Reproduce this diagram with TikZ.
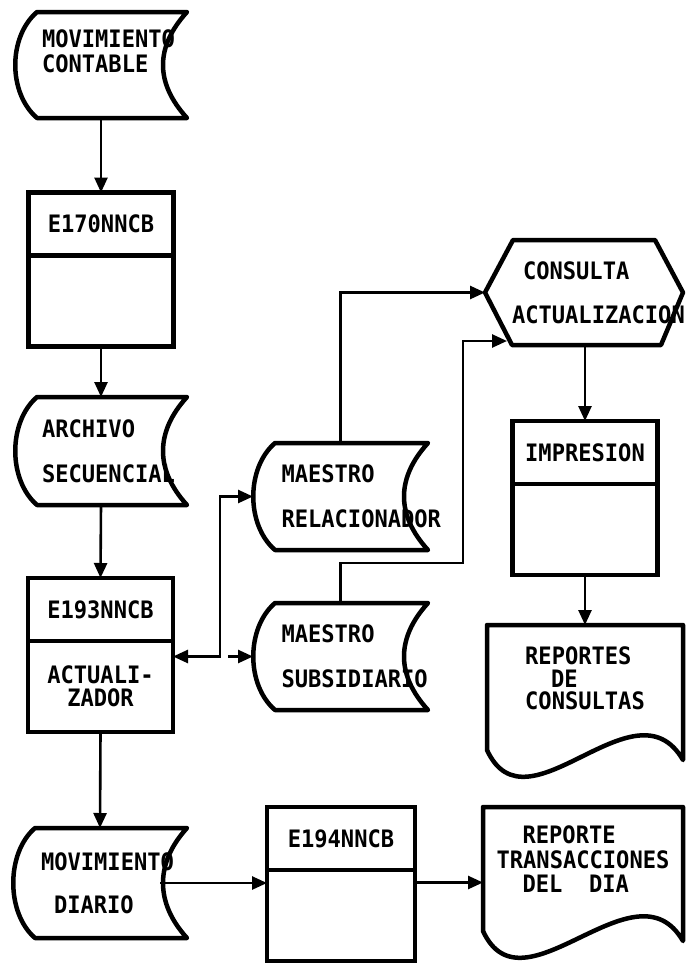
\documentclass[tikz,border=0pt]{standalone}
\usepackage{fontspec}
\newfontfamily\dotfont{DejaVu Sans Mono}[FakeStretch=0.92]
\usetikzlibrary{positioning,arrows.meta}

\tikzset{
  lbl/.style={font=\dotfont\bfseries\fontsize{24}{22}\selectfont},
  stored/.style={lbl,inner sep=0pt,outer sep=0pt,align=left,text width=118pt,
    minimum width=174pt,minimum height=107pt},
  docu/.style={lbl,inner sep=0pt,outer sep=0pt,align=left,minimum width=198pt,
    minimum height=152pt},
  prog/.style={lbl,draw,line width=4.5pt,inner sep=0pt,outer sep=0pt,
    minimum width=145pt,minimum height=63pt,align=center},
  progb/.style={prog,minimum height=91pt},
  shapeline/.style={line width=4.5pt,line join=round,line cap=round},
  conn/.style={line width=2.6pt,->},
}

\begin{document}
\begin{tikzpicture}[x=1pt,y=-1pt,>={Triangle[length=15pt,width=13pt]}]
    \useasboundingbox (0,0) rectangle (691,967);

    % left column
    \node[stored,minimum width=172pt,minimum height=106pt] (movcont) at (101,65)
        {MOVIMIENTO\\[3pt]CONTABLE\\[5pt]\mbox{}};
    \node[prog] (e170) at (101,224) {E170NNCB};
    \node[progb,below=0pt of e170] (e170b) {};
    \node[stored,minimum width=172pt,minimum height=108pt] (archseq) at (101,451)
        {ARCHIVO\\[23pt]SECUENCIAL};
    \node[prog] (e193) at (100.5,609.5) {E193NNCB};
    \node[progb,below=0pt of e193] (e193b) {ACTUALI-\\[1pt]ZADOR};
    \node[stored,minimum height=110pt] (movdia) at (100,883)
        {MOVIMIENTO\\[21pt]\hspace*{13pt}DIARIO};

    % middle
    \node[stored,minimum width=175pt] (maerel) at (340.5,496.5) {MAESTRO\\[23pt]RELACIONADOR};
    \node[stored,minimum width=175pt] (maesub) at (340.5,656.5) {MAESTRO\\[23pt]SUBSIDIARIO};
    \node[prog,minimum width=148pt] (e194) at (341,838.5) {E194NNCB};
    \node[progb,minimum width=148pt,below=0pt of e194] (e194b) {};

    % right column
    \node[lbl,inner sep=0pt,outer sep=0pt,align=left,text width=144pt,
        minimum width=198pt,minimum height=105pt] (consulta) at (584,292.5)
        {\hspace*{11pt}CONSULTA\\[22pt]ACTUALIZACION};
    \node[prog] (imp) at (585,452.5) {IMPRESION};
    \node[progb,below=0pt of imp] (impb) {};
    \node[docu,minimum width=196pt] (repcon) at (585,701)
        {REPORTES\\[0.5pt]\hspace*{26pt}DE\\[0.5pt]CONSULTAS\\[23pt]\mbox{}};
    \node[docu,minimum width=200pt,minimum height=151pt] (reptra) at (583,882.5)
        {\hspace*{26pt}REPORTE\\[2.5pt]TRANSACCIONES\\[2.5pt]\hspace*{26pt}DEL~~DIA\\[24pt]\mbox{}};

    % outlines
    \foreach \n in {movcont,archseq,maerel,maesub,movdia}
        \draw[shapeline] ([xshift=22pt]\n.north west) -- (\n.north east)
        .. controls ([xshift=-32pt,yshift=-35pt]\n.north east) and ([xshift=-32pt,yshift=35pt]\n.south east) .. (\n.south east)
        -- ([xshift=22pt]\n.south west)
        .. controls ([xshift=-7pt,yshift=25pt]\n.south west) and ([xshift=-7pt,yshift=-25pt]\n.north west) .. cycle;
    \foreach \n in {repcon,reptra}
        \draw[shapeline] ([yshift=27pt]\n.south west) -- (\n.north west) -- (\n.north east)
        -- ([yshift=17pt]\n.south east)
        .. controls ([xshift=-48pt,yshift=100pt]\n.south east) and ([xshift=40pt,yshift=-60pt]\n.south west) .. cycle;
    \draw[shapeline] ([xshift=28pt]consulta.north west) -- ([xshift=-28pt]consulta.north east)
        -- (consulta.east) -- ([xshift=-22pt]consulta.south east)
        -- ([xshift=27pt]consulta.south west) -- (consulta.west) -- cycle;

    % connectors
    \coordinate (jn) at ([xshift=-33pt]maesub.west);
    \coordinate (bend) at (463,563);
    \coordinate (cin) at ([xshift=22pt,yshift=4pt]consulta.south west);

    \draw[conn] (movcont.south) -- (e170.north);
    \draw[conn] (e170b.south) -- (archseq.north);
    \draw[conn] (archseq.south) -- (e193.north);
    \draw[conn] (e193b.south) -- (movdia.north);
    \draw[conn,<->] (e193b.east |- jn) -- (jn) |- (maerel.west);
    \draw[conn] ([xshift=8pt]jn) -- (maesub.west);
    \draw[conn] (maerel.north) |- (consulta.west);
    \draw[conn] (maesub.north) |- (bend) |- (cin);
    \draw[conn] (imp.north |- consulta.south) -- (imp.north);
    \draw[conn] (impb.south) -- (repcon.north);
    \draw[conn] ([xshift=-27pt]movdia.east) -- (movdia.east -| e194b.west);
    \draw[conn] (e194b.east |- reptra.west) -- (reptra.west);
\end{tikzpicture}
\end{document}
